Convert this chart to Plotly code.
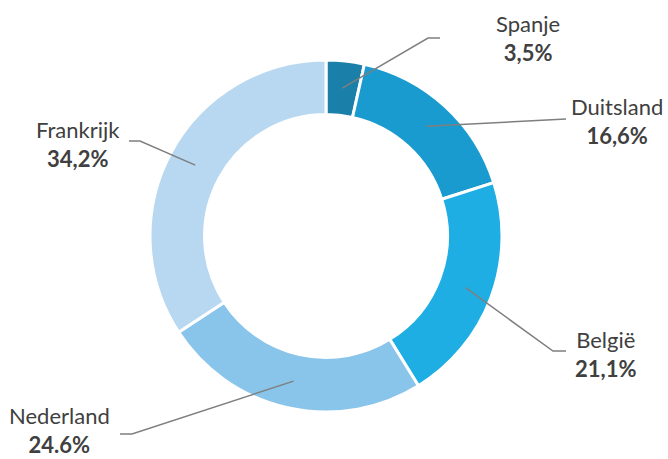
import math
import plotly.graph_objects as go

# ---- data ----
countries = ["Spanje", "Duitsland", "België", "Nederland", "Frankrijk"]
shares = [3.5, 16.6, 21.1, 24.6, 34.2]
pct_labels = ["3,5%", "16,6%", "21,1%", "24.6%", "34,2%"]
colors = ["#1a7fa9", "#1a9bd0", "#1eaee3", "#89c4ea", "#b7d8f0"]

# ---- layout constants (pixels) ----
W, H = 668, 459
CX, CY, R_OUT = 326, 236, 176
HOLE = 0.69
R_MID = R_OUT * (1 + HOLE) / 2

# elbow point, end point of leader lines, label position (x, y, yanchor)
elbows = [(428, 38), (566, 119), (553, 351), (132, 434), (140, 141)]
ends = [(440, 38), (566, 119), (566, 351), (120, 434), (129, 141)]
label_xy = [(528, 38, "middle"), (617, 121, "middle"), (605, 354, "middle"),
            (59, 459, "bottom"), (78, 144, "middle")]

fig = go.Figure()
fig.add_trace(go.Pie(
    labels=countries, values=shares, hole=HOLE, sort=False, direction="clockwise",
    rotation=0, textinfo="none", hoverinfo="label+percent",
    marker=dict(colors=colors, line=dict(color="white", width=3)),
    domain=dict(x=[(CX - R_OUT) / W, (CX + R_OUT) / W],
                y=[(H - CY - R_OUT) / H, (H - CY + R_OUT) / H]),
    showlegend=False,
))

total = sum(shares)
cum = 0.0
shapes = []
annotations = []
for i, v in enumerate(shares):
    mid = (cum + v / 2) / total * 2 * math.pi
    cum += v
    sx = CX + R_MID * math.sin(mid)
    sy = CY - R_MID * math.cos(mid)
    ex, ey = elbows[i]
    tx, ty = ends[i]
    shapes.append(dict(type="path", xref="x", yref="y", layer="above",
                       path=f"M {sx},{sy} L {ex},{ey} L {tx},{ty}",
                       line=dict(color="#7f7f7f", width=1.5)))
    lx, ly, ya = label_xy[i]
    annotations.append(dict(x=lx, y=ly, xref="x", yref="y",
                            text=f"{countries[i]}<br><b>{pct_labels[i]}</b>",
                            showarrow=False, xanchor="center", yanchor=ya, align="center",
                            borderpad=0,
                            font=dict(family="Lato", size=22, color="#404040")))

fig.update_layout(
    width=W, height=H, margin=dict(l=0, r=0, t=0, b=0),
    paper_bgcolor="white", plot_bgcolor="rgba(0,0,0,0)",
    xaxis=dict(range=[0, W], visible=False, fixedrange=True),
    yaxis=dict(range=[H, 0], visible=False, fixedrange=True),
    shapes=shapes, annotations=annotations,
)
fig.write_html("out.html", config={"displayModeBar": False},
               post_script="document.body.style.margin='0';document.body.style.overflow='hidden';")
